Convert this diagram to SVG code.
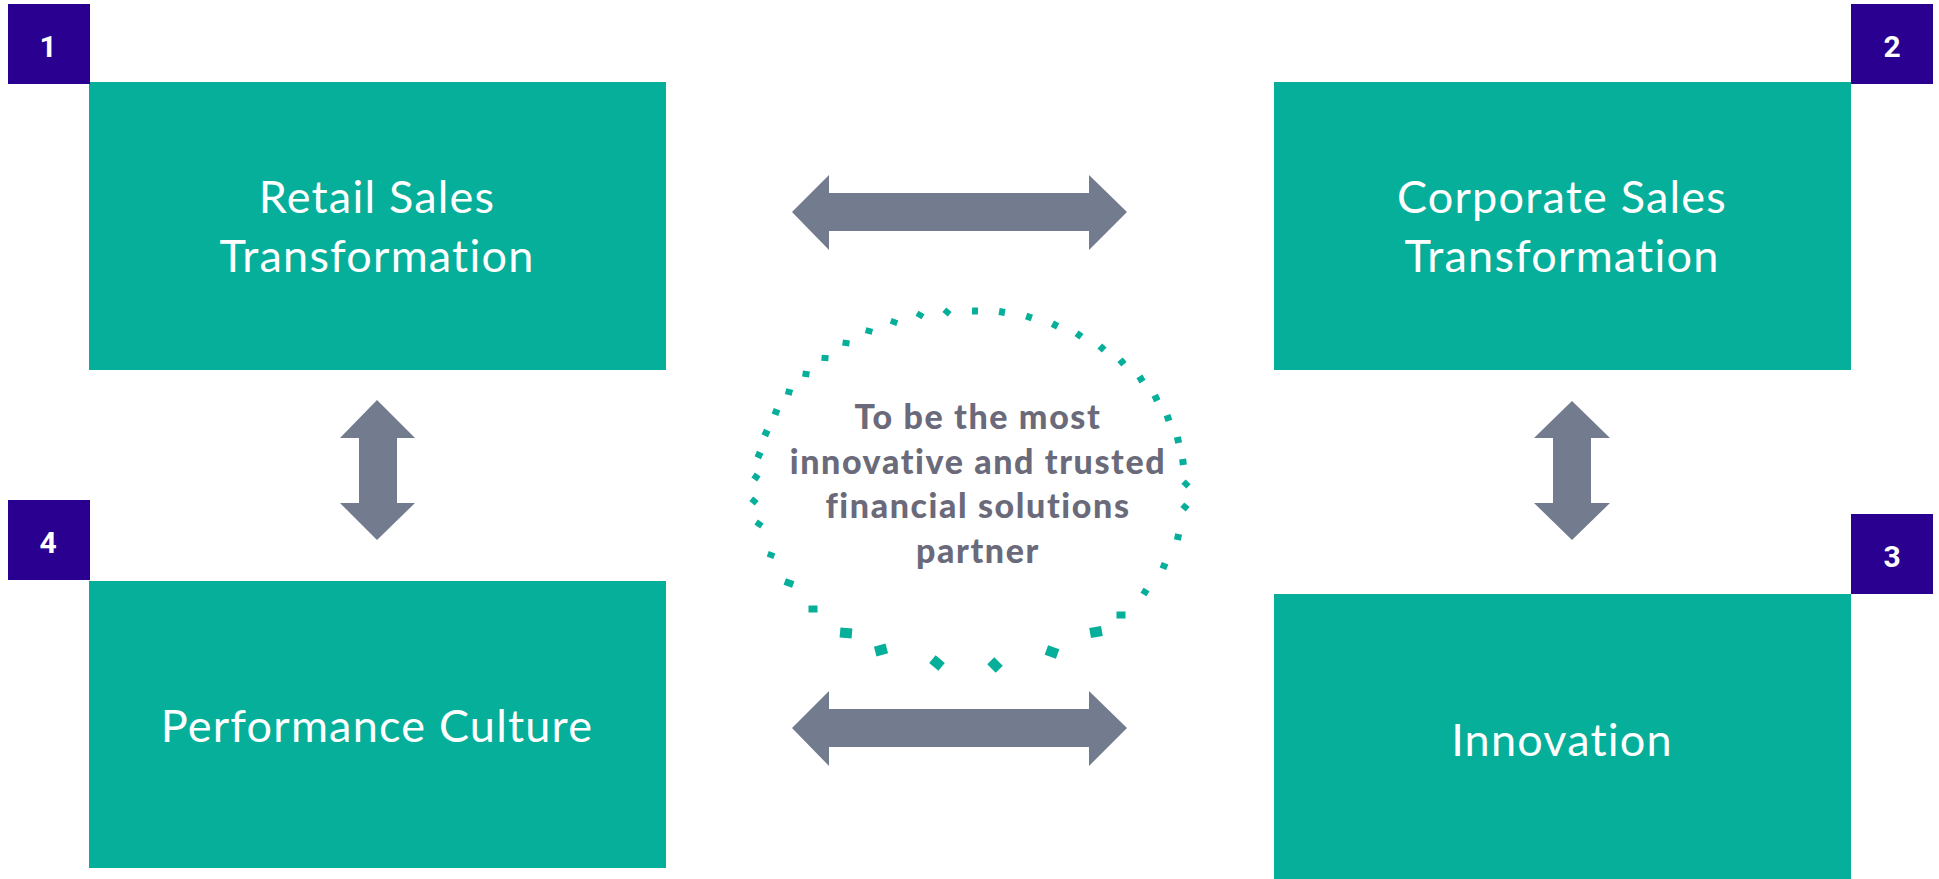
<svg xmlns="http://www.w3.org/2000/svg" xmlns:xlink="http://www.w3.org/1999/xlink" width="1939" height="879" viewBox="0 0 1939 879">
<style>
.box{fill:#05AF9A}
.badge{fill:#2A0090}
.num{fill:#FFFFFF;font-family:Roboto,"Liberation Sans",sans-serif;font-weight:700;font-size:30px;text-anchor:middle}
.lbl{fill:#FFFFFF;font-family:Lato,"Open Sans",sans-serif;font-weight:400;font-size:45px;letter-spacing:1.2px;text-anchor:middle;font-variant-ligatures:none}
.arrow{fill:#737B8F}
.dot{fill:#05AF9A}
.core{fill:#6A6A7A;font-family:Lato,"Open Sans",sans-serif;font-weight:900;font-size:34px;letter-spacing:1.6px;text-anchor:middle;font-variant-ligatures:none}
</style>
<defs>
<rect id="d" x="-3.5" y="-3" width="7" height="6"/>
<rect id="dm" x="-4.5" y="-3.5" width="9" height="7"/>
<rect id="dl" x="-6" y="-5" width="12" height="10"/>
</defs>
<rect width="1939" height="879" fill="#FFFFFF"/>

<g id="node-1">
<rect class="box" x="89" y="82" width="577" height="288"/>
<rect class="badge" x="8" y="4" width="82" height="80"/>
<text class="num" x="48" y="57">1</text>
<text class="lbl" x="377" y="213">Retail Sales</text>
<text class="lbl" x="377" y="272">Transformation</text>
</g>

<g id="node-2">
<rect class="box" x="1274" y="82" width="577" height="288"/>
<rect class="badge" x="1851" y="4" width="82" height="80"/>
<text class="num" x="1892" y="57">2</text>
<text class="lbl" x="1562" y="213">Corporate Sales</text>
<text class="lbl" x="1562" y="272">Transformation</text>
</g>

<g id="node-3">
<rect class="box" x="1274" y="594" width="577" height="285"/>
<rect class="badge" x="1851" y="514" width="82" height="80"/>
<text class="num" x="1892" y="567">3</text>
<text class="lbl" x="1562" y="756">Innovation</text>
</g>

<g id="node-4">
<rect class="box" x="89" y="581" width="577" height="287"/>
<rect class="badge" x="8" y="500" width="82" height="80"/>
<text class="num" x="48" y="553">4</text>
<text class="lbl" x="377" y="742">Performance Culture</text>
</g>

<g id="core">
<g class="dot">
<use xlink:href="#d" transform="translate(975,311) rotate(-88)"/>
<use xlink:href="#d" transform="translate(1002,312) rotate(-80)"/>
<use xlink:href="#d" transform="translate(1029,317) rotate(-71)"/>
<use xlink:href="#d" transform="translate(1055,325) rotate(-62)"/>
<use xlink:href="#d" transform="translate(1079,335) rotate(-54)"/>
<use xlink:href="#d" transform="translate(1102,348) rotate(-47)"/>
<use xlink:href="#d" transform="translate(1122,362) rotate(-40)"/>
<use xlink:href="#d" transform="translate(1141,379) rotate(-32)"/>
<use xlink:href="#d" transform="translate(1156,398) rotate(-26)"/>
<use xlink:href="#d" transform="translate(1168,418) rotate(-19)"/>
<use xlink:href="#d" transform="translate(1178,440) rotate(-13)"/>
<use xlink:href="#d" transform="translate(1183,462) rotate(-7)"/>
<use xlink:href="#d" transform="translate(1186,484) rotate(45)"/>
<use xlink:href="#d" transform="translate(1185,507) rotate(40)"/>
<use xlink:href="#d" transform="translate(1178,537) rotate(13)"/>
<use xlink:href="#d" transform="translate(1164,566) rotate(22)"/>
<use xlink:href="#d" transform="translate(1145,592) rotate(31)"/>
<use xlink:href="#dm" transform="translate(1121,615) rotate(0)"/>
<use xlink:href="#dl" transform="translate(1096,632) rotate(-10)"/>
<use xlink:href="#dl" transform="translate(1052,652) rotate(20)"/>
<use xlink:href="#dl" transform="translate(995,665) rotate(45)"/>
<use xlink:href="#dl" transform="translate(937,663) rotate(40)"/>
<use xlink:href="#dl" transform="translate(881,650) rotate(-15)"/>
<use xlink:href="#dl" transform="translate(846,633) rotate(5)"/>
<use xlink:href="#dm" transform="translate(813,609) rotate(0)"/>
<use xlink:href="#dm" transform="translate(789,583) rotate(20)"/>
<use xlink:href="#d" transform="translate(771,555) rotate(20)"/>
<use xlink:href="#d" transform="translate(759,524) rotate(35)"/>
<use xlink:href="#d" transform="translate(754,501) rotate(40)"/>
<use xlink:href="#d" transform="translate(756,477) rotate(35)"/>
<use xlink:href="#d" transform="translate(759,455) rotate(25)"/>
<use xlink:href="#d" transform="translate(766,433) rotate(25)"/>
<use xlink:href="#d" transform="translate(776,412) rotate(20)"/>
<use xlink:href="#d" transform="translate(789,392) rotate(15)"/>
<use xlink:href="#d" transform="translate(806,374) rotate(8)"/>
<use xlink:href="#d" transform="translate(825,358) rotate(5)"/>
<use xlink:href="#d" transform="translate(846,343) rotate(8)"/>
<use xlink:href="#d" transform="translate(869,331) rotate(15)"/>
<use xlink:href="#d" transform="translate(894,322) rotate(20)"/>
<use xlink:href="#d" transform="translate(920,315) rotate(30)"/>
<use xlink:href="#d" transform="translate(947,312) rotate(40)"/>
</g>
<text class="core" x="978" y="429">To be the most</text>
<text class="core" x="978" y="474">innovative and trusted</text>
<text class="core" x="978" y="518">financial solutions</text>
<text class="core" x="978" y="563">partner</text>
</g>

<g id="connectors" class="arrow">
<polygon points="792,212 829,175 829,193 1089,193 1089,175 1127,212 1089,250 1089,231 829,231 829,250"/>
<polygon points="792,728 829,691 829,709 1089,709 1089,691 1127,728 1089,766 1089,747 829,747 829,766"/>
<polygon points="377,400 415,438 397,438 397,503 415,503 377,540 340,503 359,503 359,438 340,438"/>
<polygon points="1572,401 1610,438 1591,438 1591,503 1610,503 1572,540 1534,503 1553,503 1553,438 1534,438"/>
</g>
</svg>
